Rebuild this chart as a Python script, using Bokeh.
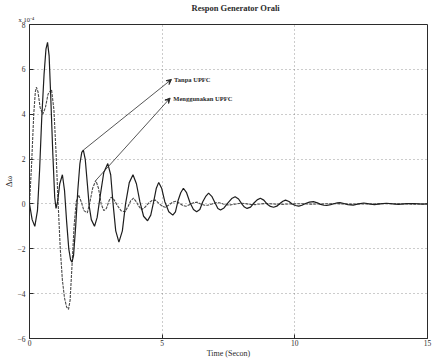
from bokeh.plotting import figure
from bokeh.models import FixedTicker, Label, Arrow, VeeHead, ColumnDataSource, Title
from bokeh.embed import file_html
from bokeh.resources import INLINE

# ---- data (values in units of 1e-4) ----
t_tanpa = [0.00, 0.10, 0.20, 0.30, 0.38, 0.46, 0.55, 0.62, 0.68, 0.74, 0.80, 0.88, 0.95, 1.00,
           1.06, 1.14, 1.24, 1.32, 1.40, 1.48, 1.55, 1.60, 1.66, 1.74, 1.82, 1.90, 1.97, 2.03,
           2.10, 2.18, 2.25, 2.33, 2.45, 2.55, 2.67, 2.80, 2.95, 3.06, 3.15, 3.25, 3.37, 3.50,
           3.62, 3.76, 3.90, 4.03, 4.16, 4.30, 4.45, 4.57, 4.68, 4.78, 4.87, 4.98, 5.10, 5.25,
           5.40, 5.50, 5.60, 5.70, 5.80, 5.92, 6.05, 6.18, 6.30, 6.42, 6.53, 6.65, 6.75, 6.87,
           7.00, 7.10, 7.20, 7.33, 7.48, 7.62, 7.75, 7.88, 8.00, 8.10, 8.20, 8.33, 8.45, 8.58,
           8.70, 8.83, 8.95, 9.08, 9.20, 9.32, 9.45, 9.55, 9.65, 9.78, 9.90, 10.02, 10.15, 10.27,
           10.40, 10.55, 10.70, 10.85, 10.97, 11.10, 11.20, 11.35, 11.50, 11.60, 11.70, 11.85,
           12.00, 12.20, 12.40, 12.60, 12.80, 13.00, 13.20, 13.45, 13.70, 13.90, 14.20, 14.50,
           14.80, 15.00]
v_tanpa = [0.0, -0.7, -1.0, -0.3, 1.5, 3.8, 5.8, 6.9, 7.2, 6.6, 4.8, 2.2, 0.3, -0.2,
           0.1, 0.9, 1.3, 0.6, -0.8, -2.0, -2.5, -2.6, -2.3, -1.0, 0.6, 1.8, 2.3, 2.4,
           2.0, 0.9, -0.1, -0.7, -1.0, -0.6, 0.4, 1.4, 1.8, 1.3, 0.0, -1.2, -1.7, -1.2,
           0.0, 0.95, 1.3, 0.9, 0.1, -0.55, -0.75, -0.5, 0.1, 0.7, 0.96, 0.7, 0.1, -0.35,
           -0.5, -0.35, 0.15, 0.5, 0.7, 0.5, 0.05, -0.25, -0.35, -0.25, 0.1, 0.35, 0.48, 0.34,
           0.03, -0.2, -0.27, -0.18, 0.05, 0.24, 0.32, 0.22, 0.0, -0.14, -0.2, -0.14, 0.03, 0.18,
           0.25, 0.17, 0.0, -0.11, -0.15, -0.1, 0.03, 0.12, 0.17, 0.11, 0.0, -0.07, -0.1, -0.06,
           0.02, 0.08, 0.1, 0.05, -0.02, -0.06, -0.07, -0.03, 0.02, 0.05, 0.06, 0.02,
           -0.03, -0.05, 0.0, 0.04, 0.0, -0.03, 0.0, 0.03, 0.0, -0.02, 0.01, 0.02,
           -0.01, 0.0]

t_upfc = [0.00, 0.08, 0.16, 0.22, 0.26, 0.32, 0.40, 0.50, 0.60, 0.70, 0.83, 0.92, 1.00, 1.08,
          1.16, 1.24, 1.32, 1.40, 1.47, 1.53, 1.60, 1.68, 1.76, 1.85, 1.95, 2.05, 2.18, 2.28,
          2.38, 2.50, 2.60, 2.70, 2.80, 2.90, 3.00, 3.08, 3.18, 3.30, 3.45, 3.60, 3.72, 3.82,
          3.92, 4.02, 4.12, 4.22, 4.35, 4.50, 4.62, 4.75, 4.88, 5.00, 5.12, 5.25, 5.40, 5.52,
          5.65, 5.78, 5.90, 6.05, 6.20, 6.32, 6.45, 6.60, 6.72, 6.88, 7.02, 7.15, 7.30, 7.45,
          7.60, 7.78, 7.95, 8.10, 8.30, 8.50, 8.70, 8.90, 9.20, 9.50, 9.80, 10.20, 10.60, 11.00,
          11.50, 12.00, 12.50, 13.00, 13.50, 14.00, 14.50, 15.00]
v_upfc = [0.0, 1.8, 4.0, 5.0, 5.2, 5.0, 4.3, 4.0, 4.3, 4.9, 5.1, 4.2, 2.3, 0.0,
          -2.0, -3.4, -4.2, -4.6, -4.7, -4.3, -2.8, -1.0, 0.1, 0.4, 0.1, -0.3, -0.4, 0.1,
          0.7, 1.05, 0.7, 0.0, -0.3, -0.2, 0.15, 0.3, 0.2, -0.05, -0.3, -0.35, -0.1, 0.15,
          0.26, 0.1, -0.1, -0.26, -0.15, 0.05, 0.15, 0.17, 0.02, -0.1, -0.15, -0.05, 0.08, 0.12,
          0.03, -0.07, -0.1, -0.02, 0.06, 0.08, 0.0, -0.06, -0.06, 0.0, 0.05, 0.05, 0.0, -0.04,
          -0.04, 0.0, 0.03, 0.02, -0.02, -0.03, 0.0, 0.02, 0.0, -0.02, 0.0, 0.01, -0.01, 0.0,
          0.01, -0.01, 0.0, 0.0, 0.01, 0.0, -0.01, 0.0]

x_ticks = [0, 5, 10, 15]
y_ticks = [-6, -4, -2, 0, 2, 4, 6, 8]

SERIF = "Liberation Serif"
INK = "#2b2b2b"

p = figure(width=432, height=360, x_range=(0, 15), y_range=(-6, 8),
           output_backend="svg", toolbar_location=None, title=None,
           min_border_left=29, min_border_right=5, min_border_top=19, min_border_bottom=18,
           background_fill_color="white", border_fill_color="white")

# title rows above the frame: the first added sits closest to the frame
p.add_layout(Title(text="x 10⁻⁴", align="left", offset=-11, standoff=3,
                   text_font=SERIF, text_font_size="6.5px", text_font_style="normal",
                   text_color=INK), "above")
p.add_layout(Title(text="Respon Generator Orali", align="left", offset=162, standoff=0,
                   text_font=SERIF, text_font_size="8.5px", text_font_style="bold",
                   text_color=INK), "above")

p.outline_line_color = INK
p.outline_line_width = 1

p.xaxis.ticker = FixedTicker(ticks=x_ticks)
p.yaxis.ticker = FixedTicker(ticks=y_ticks)
for ax in (p.xaxis, p.yaxis):
    ax.axis_line_color = INK
    ax.major_tick_line_color = INK
    ax.major_tick_in = 4
    ax.major_tick_out = 0
    ax.minor_tick_line_color = None
    ax.major_label_text_font = SERIF
    ax.major_label_text_font_size = "7.5px"
    ax.major_label_text_color = INK
    ax.axis_label_text_font = SERIF
    ax.axis_label_text_font_style = "normal"
    ax.axis_label_text_color = INK

p.xaxis.major_label_standoff = 1
p.yaxis.major_label_standoff = 4
p.xaxis.axis_label = "Time (Secon)"
p.xaxis.axis_label_text_font_size = "8px"
p.xaxis.axis_label_standoff = 0
p.yaxis.axis_label = "Δω"
p.yaxis.axis_label_text_font_size = "8.5px"
p.yaxis.axis_label_standoff = 1

p.grid.grid_line_color = "#555555"
p.grid.grid_line_dash = "1 3"
p.grid.grid_line_alpha = 0.6

src_t = ColumnDataSource(dict(t=t_tanpa, v=v_tanpa))
src_u = ColumnDataSource(dict(t=t_upfc, v=v_upfc))
p.line("t", "v", source=src_u, line_color="#4a4a4a", line_width=1.1, line_dash="3 1")
p.line("t", "v", source=src_t, line_color="#1e1e1e", line_width=1.2)

p.add_layout(Label(x=5.45, y=5.55, text="Tanpa UPFC", text_font=SERIF,
                   text_font_size="6.5px", text_font_style="bold", text_color=INK,
                   text_baseline="middle"))
p.add_layout(Label(x=5.42, y=4.72, text="Menggunakan UPFC", text_font=SERIF,
                   text_font_size="6.5px", text_font_style="bold", text_color=INK,
                   text_baseline="middle"))
p.add_layout(Arrow(end=VeeHead(size=5, fill_color=INK, line_color=INK),
                   x_start=2.03, y_start=2.4, x_end=5.35, y_end=5.55,
                   line_color=INK, line_width=0.8))
p.add_layout(Arrow(end=VeeHead(size=5, fill_color=INK, line_color=INK),
                   x_start=2.5, y_start=1.05, x_end=5.3, y_end=4.72,
                   line_color=INK, line_width=0.8))

open("out.html", "w").write(file_html(p, INLINE))
